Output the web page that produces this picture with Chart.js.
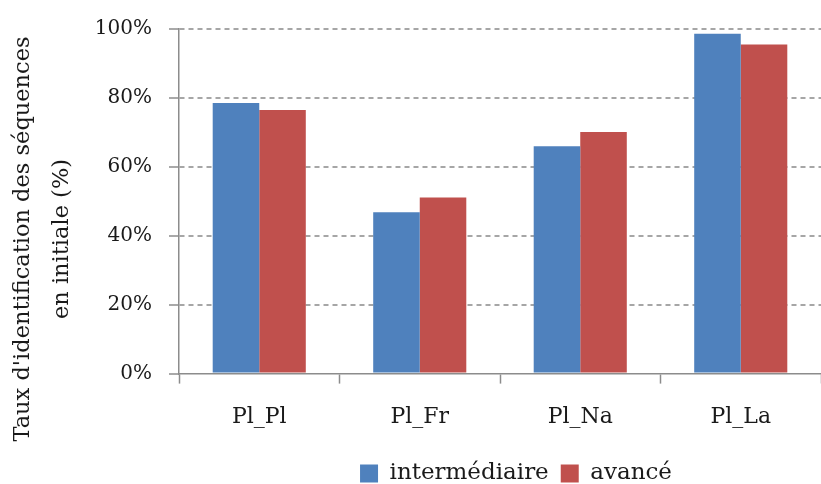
<!DOCTYPE html>
<html>
<head>
<meta charset="utf-8">
<script src="https://cdn.jsdelivr.net/npm/chart.js@4/dist/chart.umd.min.js"></script>
<style>
  html, body { margin: 0; padding: 0; background: #ffffff; }
  #wrap { width: 821px; height: 484px; position: relative; }
</style>
</head>
<body>
<div id="wrap"><canvas id="c" width="821" height="484"></canvas></div>
<script>
const categories = ["Pl_Pl", "Pl_Fr", "Pl_Na", "Pl_La"];
const intermediaire = [78.5, 46.8, 66.0, 98.6];
const avance = [76.5, 51.1, 70.1, 95.5];
const seriesNames = ["intermédiaire", "avancé"];
const yTitleLines = ["Taux d'identification des séquences", "en initiale (%)"];
const yTicks = [0, 20, 40, 60, 80, 100];

const FONT = "'DejaVu Serif', serif";

const yTitlePlugin = {
  id: 'yTitle',
  afterLayout(chart) {
    if (chart.legend) { chart.legend.left += 16; chart.legend.right += 16; }
  },
  afterDraw(chart) {
    const ctx = chart.ctx;
    ctx.save();
    ctx.fillStyle = '#1a1a1a';
    ctx.font = "22.5px " + FONT;
    ctx.textAlign = 'center';
    ctx.textBaseline = 'middle';
    const xs = [23, 62];
    yTitleLines.forEach((t, i) => {
      ctx.save();
      ctx.translate(xs[i], 239);
      ctx.rotate(-Math.PI / 2);
      ctx.fillText(t, 0, 0);
      ctx.restore();
    });
    ctx.restore();
  }
};

new Chart(document.getElementById('c'), {
  type: 'bar',
  data: {
    labels: categories,
    datasets: [
      { label: seriesNames[0], data: intermediaire, backgroundColor: '#4F81BD', borderWidth: 0 },
      { label: seriesNames[1], data: avance, backgroundColor: '#C0504D', borderWidth: 0 }
    ]
  },
  options: {
    responsive: false,
    animation: false,
    devicePixelRatio: 1,
    layout: { padding: { top: 11, right: 0, bottom: -11, left: 75 } },
    datasets: { bar: { categoryPercentage: 0.58, barPercentage: 1.0 } },
    plugins: {
      tooltip: { enabled: false },
      legend: {
        position: 'bottom',
        fullSize: false,
        labels: {
          font: { family: FONT, size: 23 },
          color: '#1a1a1a',
          boxWidth: 18,
          boxHeight: 18,
          padding: 12
        }
      }
    },
    scales: {
      x: {
        grid: {
          display: true,
          drawOnChartArea: false,
          drawTicks: true,
          tickLength: 10,
          tickColor: '#8c8c8c',
          tickWidth: 1.5,
          offset: true
        },
        border: { display: true, color: '#8c8c8c', width: 1.5 },
        ticks: {
          font: { family: FONT, size: 22 },
          color: '#1a1a1a',
          padding: 20
        }
      },
      y: {
        min: 0,
        max: 100,
        afterFit(scale) { scale.width = 104; },
        afterBuildTicks(scale) { scale.ticks = yTicks.map(v => ({ value: v })); },
        grid: {
          color: (ctx) => (ctx.tick && ctx.tick.value === 0) ? 'rgba(0,0,0,0)' : '#A6A6A6',
          lineWidth: 2,
          tickColor: '#8c8c8c',
          tickWidth: 1.5,
          tickLength: 10,
          tickBorderDash: []
        },
        border: { display: true, color: '#8c8c8c', width: 1.5, dash: [5, 4] },
        ticks: {
          font: { family: FONT, size: 20 },
          color: '#1a1a1a',
          padding: 17,
          callback: (v) => v + '%'
        }
      }
    }
  },
  plugins: [yTitlePlugin]
});
</script>
</body>
</html>
